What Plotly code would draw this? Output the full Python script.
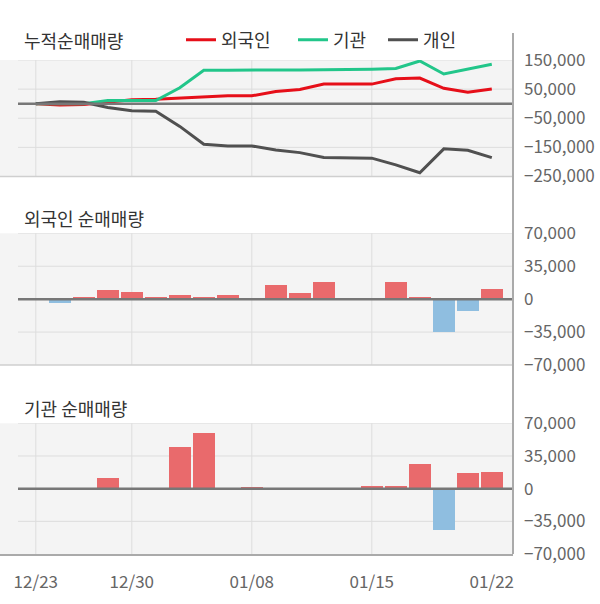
import numpy as np
import plotly.graph_objects as go

# ---- data ----
dates = ["12/23", "12/24", "12/26", "12/27", "12/30", "01/02", "01/03", "01/06", "01/07", "01/08",
         "01/09", "01/10", "01/13", "01/14", "01/15", "01/16", "01/17", "01/20", "01/21", "01/22"]
foreign_daily = [0, -4600, 1400, 9200, 7800, 1400, 4600, 2500, 4600, 0,
                 15200, 6700, 18400, 0, 0, 18400, 2500, -35300, -13100, 11000]
inst_daily = [0, 0, 0, 11000, 0, 0, 43800, 59700, 0, 1400,
              0, 0, 0, 0, 2500, 2500, 25800, -44900, 16300, 17300]
indiv_cum = [0, 7000, 5000, -13000, -24000, -26000, -78000, -139000, -145000, -145000,
             -159000, -168000, -185000, -185000, -187000, -210000, -237000, -155000, -160000, -185000]
tick_dates = ["12/23", "12/30", "01/08", "01/15", "01/22"]
cum_ticks = [150000, 50000, -50000, -150000, -250000]
daily_ticks = [70000, 35000, 0, -35000, -70000]
series_names = ["외국인", "기관", "개인"]

foreign_cum = np.cumsum(foreign_daily).tolist()
inst_cum = np.cumsum(inst_daily).tolist()

idx = list(range(len(dates)))
tickvals = [dates.index(d) for d in tick_dates]
grid_x = tickvals[:-1]

FONT = "Noto Sans CJK KR"
RED_LINE = "#e60f19"
GREEN_LINE = "#22c68a"
DARK_LINE = "#505050"
BAR_POS = "#e96a6c"
BAR_NEG = "#8fbee0"
BG = "#f4f4f4"
GRID = "#dddddd"

W, H = 600, 604
ML, MR, MT, MB = 0, 87, 60, 50
plot_w = W - ML - MR
x0_px, step_px = 35.8, 24.0
xr = [-(x0_px) / step_px, (plot_w - x0_px) / step_px]
grid_start = -(x0_px - 18) / step_px

plot_h = H - MT - MB
def py(p):
    return (H - MB - p) / plot_h

fig = go.Figure()

legend_ids = ["legend", "legend2", "legend3"]
for name, ys, col, lg in zip(series_names, [foreign_cum, inst_cum, indiv_cum],
                             [RED_LINE, GREEN_LINE, DARK_LINE], legend_ids):
    fig.add_trace(go.Scatter(x=idx, y=ys, mode="lines", name=name, legend=lg,
                             line=dict(color=col, width=3), yaxis="y"))

fig.add_trace(go.Bar(x=idx, y=foreign_daily, width=0.94, showlegend=False, yaxis="y2",
                     marker=dict(color=[BAR_POS if v >= 0 else BAR_NEG for v in foreign_daily],
                                 line=dict(width=0))))
fig.add_trace(go.Bar(x=idx, y=inst_daily, width=0.94, showlegend=False, yaxis="y3",
                     marker=dict(color=[BAR_POS if v >= 0 else BAR_NEG for v in inst_daily],
                                 line=dict(width=0))))

dom1 = [py(176.5), 1.0]
dom2 = [py(365), py(233.3)]
dom3 = [0.0, py(423.3)]

yaxis_common = dict(side="right", anchor="x", showgrid=False, zeroline=False, showline=False,
                    ticks="", tickfont=dict(family=FONT, size=17, color="#666666"),
                    tickformat=",d", ticklabelstandoff=10, fixedrange=True)

shapes = []
for yn, rng, tv in [("y", [-250000, 150000], cum_ticks),
                    ("y2", [-70000, 70000], daily_ticks),
                    ("y3", [-70000, 70000], daily_ticks)]:
    shapes.append(dict(type="rect", xref="paper", yref=f"{yn} domain", x0=0, x1=1, y0=0, y1=1,
                       fillcolor=BG, line=dict(width=0), layer="below"))
    for v in tv:
        if v != rng[0] and v != 0:
            shapes.append(dict(type="line", xref="x", yref=yn, x0=grid_start, x1=xr[1], y0=v, y1=v,
                               line=dict(color=GRID, width=1), layer="below"))
    for gx in grid_x:
        shapes.append(dict(type="line", xref="x", yref=f"{yn} domain", x0=gx, x1=gx, y0=0, y1=1,
                           line=dict(color=GRID, width=1), layer="below"))
    if yn != "y3":
        shapes.append(dict(type="line", xref="paper", yref=f"{yn} domain", x0=0, x1=1, y0=0, y1=0,
                           line=dict(color="#cfcfcf", width=1.5), layer="below"))
    shapes.append(dict(type="line", xref="x", yref=yn, x0=grid_start, x1=xr[1], y0=0, y1=0,
                       line=dict(color="#777777", width=2.5), layer="above"))

shapes.append(dict(type="line", xref="paper", yref="paper", x0=1, x1=1, y0=0, y1=py(33),
                   line=dict(color="#aaaaaa", width=2)))

titles = [("누적순매매량", 40), ("외국인 순매매량", 218), ("기관 순매매량", 408)]
annotations = [dict(text=t, xref="paper", yref="paper", x=22 / plot_w, y=py(p), xanchor="left",
                    yanchor="middle", showarrow=False,
                    font=dict(family=FONT, size=18, color="#333333")) for t, p in titles]

legend_common = dict(orientation="h", yanchor="middle", xanchor="left", y=py(40),
                     font=dict(family=FONT, size=18, color="#333333"),
                     bgcolor="rgba(0,0,0,0)", itemwidth=30)
legend_x_px = [181, 293, 383]

fig.update_layout(
    width=W, height=H,
    margin=dict(l=ML, r=MR, t=MT, b=MB),
    paper_bgcolor="white", plot_bgcolor="rgba(0,0,0,0)",
    font=dict(family=FONT),
    bargap=0,
    xaxis=dict(range=xr, tickvals=tickvals, ticktext=tick_dates, anchor="y3",
               showgrid=False, zeroline=False, showline=True, linecolor="#aaaaaa", linewidth=2,
               ticks="", ticklabelstandoff=12,
               tickfont=dict(family=FONT, size=17, color="#666666"), fixedrange=True),
    yaxis=dict(domain=dom1, range=[-250000, 150000], tickvals=cum_ticks, **yaxis_common),
    yaxis2=dict(domain=dom2, range=[-70000, 70000], tickvals=daily_ticks, **yaxis_common),
    yaxis3=dict(domain=dom3, range=[-70000, 70000], tickvals=daily_ticks, **yaxis_common),
    showlegend=True,
    legend=dict(x=legend_x_px[0] / plot_w, **legend_common),
    legend2=dict(x=legend_x_px[1] / plot_w, **legend_common),
    legend3=dict(x=legend_x_px[2] / plot_w, **legend_common),
    shapes=shapes,
    annotations=annotations,
)

fig.write_html("out.html")
